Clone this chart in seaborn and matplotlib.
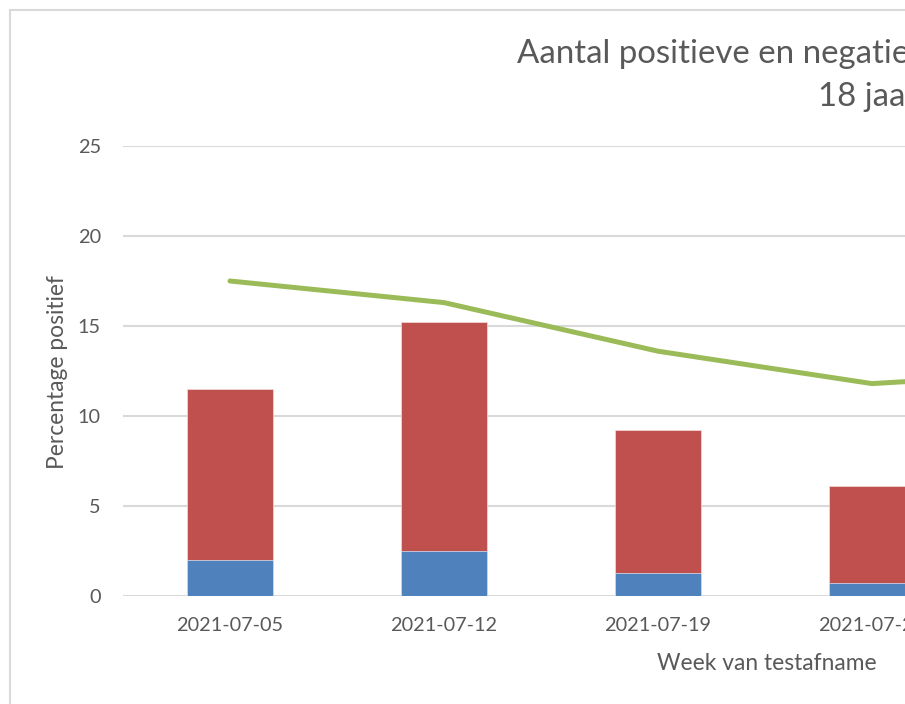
import matplotlib
matplotlib.use("Agg")
import matplotlib.pyplot as plt
import seaborn as sns
import numpy as np
import pandas as pd
from matplotlib.patches import Rectangle

# ---- data ----
weeks = ["2021-07-05", "2021-07-12", "2021-07-19", "2021-07-26", "2021-08-02", "2021-08-09"]
positief = [2.0, 2.5, 1.3, 0.7, 0.6, 0.6]          # blue segment
negatief = [9.5, 12.7, 7.9, 5.4, 4.2, 4.0]         # red segment
pct_positief = [17.5, 16.3, 13.6, 11.8, 12.5, 13.0]  # green line
yticks = [0, 5, 10, 15, 20, 25]

title_1 = "Aantal positieve en negatieve testen en percentage positief,"
title_2 = "18 jaar en ouder"
ylabel = "Percentage positief"
xlabel = "Week van testafname"

BLUE, RED, GREEN = "#4F81BD", "#C0504D", "#9BBB59"
GRID, TEXT = "#D9D9D9", "#595959"

sns.set_theme(style="white")
plt.rcParams['font.family'] = ['Lato', 'DejaVu Sans']

W, H = 905, 704
fig = plt.figure(figsize=(W / 100, H / 100), dpi=100)


def fx(px):
    return px / W


def fy(py):
    return 1 - py / H


left, top, bottom = 123, 146, 596
step = 214
right = left + step * len(weeks)
ax = fig.add_axes([fx(left), fy(bottom), (right - left) / W, (bottom - top) / H])

df = pd.DataFrame({"week": weeks, "pos": positief, "neg": negatief})
df["total"] = df["pos"] + df["neg"]

sns.barplot(data=df, x="week", y="total", color=RED, saturation=1, width=0.4,
            edgecolor="#F2DCDB", linewidth=0.5, ax=ax, zorder=2)
sns.barplot(data=df, x="week", y="pos", color=BLUE, saturation=1, width=0.4,
            edgecolor="#DCE6F2", linewidth=0.5, ax=ax, zorder=3)
sns.lineplot(x=np.arange(len(weeks)), y=pct_positief, color=GREEN, linewidth=3.6,
             solid_capstyle="round", solid_joinstyle="round", ax=ax, zorder=4)

ax.set_xlim(-0.5, len(weeks) - 0.5)
ax.set_ylim(0, 25)
ax.set_yticks(yticks)
ax.set_yticklabels([str(t) for t in yticks])
ax.set_xlabel("")
ax.set_ylabel("")
for s in ax.spines.values():
    s.set_visible(False)
ax.set_axisbelow(True)
ax.yaxis.grid(True, color=GRID, linewidth=1.5)
ax.xaxis.grid(False)
ax.tick_params(axis="both", length=0, labelsize=14.3, labelcolor=TEXT)
ax.tick_params(axis="x", pad=15)
ax.tick_params(axis="y", pad=16)

# titles and axis titles
fig.text(fx(517), fy(63), title_1, ha="left", va="baseline", fontsize=23.8, color=TEXT)
fig.text(fx(818), fy(106), title_2, ha="left", va="baseline", fontsize=23.8, color=TEXT)
fig.text(fx(657), fy(670), xlabel, ha="left", va="baseline", fontsize=16.4, color=TEXT)
fig.text(fx(58), fy(372), ylabel, ha="center", va="center", rotation=90,
         fontsize=16.4, color=TEXT)

# chart-area border (right and bottom edges lie outside the crop)
border = Rectangle((fx(9.5), -0.5), 3, 1.5 - 10 / H, transform=fig.transFigure,
                   fill=False, edgecolor=GRID, linewidth=1.5)
fig.patches.append(border)

fig.savefig("out.png", dpi=100)
